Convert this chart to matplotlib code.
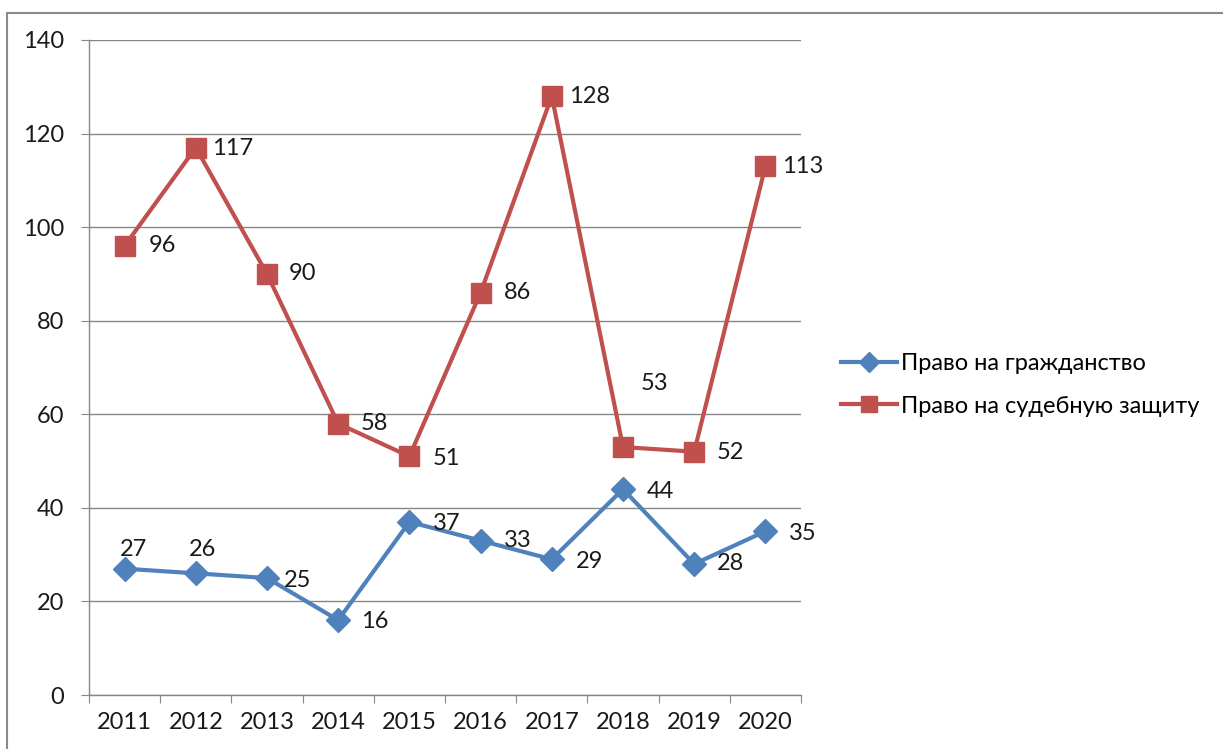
import matplotlib
matplotlib.use("Agg")
import matplotlib.pyplot as plt
from matplotlib.patches import Rectangle

years = ["2011", "2012", "2013", "2014", "2015", "2016", "2017", "2018", "2019", "2020"]
citizenship = [27, 26, 25, 16, 37, 33, 29, 44, 28, 35]
judicial = [96, 117, 90, 58, 51, 86, 128, 53, 52, 113]
series_names = ["Право на гражданство", "Право на судебную защиту"]

blue = "#4F81BD"
red = "#C0504D"
grid_c = "#868686"

plt.rcParams['font.family'] = ['Lato', 'DejaVu Sans']
FS = 17

fig = plt.figure(figsize=(12.23, 7.49), dpi=100)
fig.patches.append(Rectangle((7/1223, -0.05), 1.1, 1 - 13/749 + 0.05, transform=fig.transFigure,
                             fill=False, edgecolor="#8a8a8a", linewidth=1.5))
ax = fig.add_axes([89/1223, 1 - 695/749, (801 - 89)/1223, (695 - 40)/749])

x = list(range(len(years)))
ax.plot(x, citizenship, color=blue, lw=3, marker='D', ms=12.5, mec=blue, mfc=blue, label=series_names[0], zorder=3)
ax.plot(x, judicial, color=red, lw=3, marker='s', ms=14, mec=red, mfc=red, label=series_names[1], zorder=3)

ax.set_xlim(-0.5, len(years) - 0.5)
ax.set_ylim(0, 140)
ax.set_yticks(range(0, 141, 20))
ax.yaxis.grid(True, color=grid_c, lw=1)
ax.set_axisbelow(True)
for s in ['top', 'right']:
    ax.spines[s].set_visible(False)
for s in ['left', 'bottom']:
    ax.spines[s].set_color(grid_c)
    ax.spines[s].set_linewidth(1)

ax.set_xticks([i - 0.5 for i in range(len(years) + 1)])
ax.set_xticklabels([])
ax.set_xticks(x, minor=True)
ax.set_xticklabels(years, minor=True)
ax.tick_params(axis='x', which='major', length=6, color=grid_c, direction='out')
ax.tick_params(axis='x', which='minor', length=0, pad=12, labelsize=FS, labelcolor="#1a1a1a")
ax.tick_params(axis='y', length=6, color=grid_c, pad=12, labelsize=FS, labelcolor="#1a1a1a")

blue_off = [(9, 19), (7, 24), (31, -2), (37, -1), (37, -2), (37, 0), (38, -2), (37, -2), (36, 0), (37, -2)]
red_off = [(38, 0), (37, -1), (36, 0), (36, 0), (37, -2), (37, 0), (38, 0), (32, 64), (36, -1), (37, 0)]
for i in x:
    ax.annotate(str(citizenship[i]), (i, citizenship[i]), xytext=blue_off[i], textcoords='offset pixels',
                ha='center', va='center', fontsize=FS, color="#1a1a1a")
    ax.annotate(str(judicial[i]), (i, judicial[i]), xytext=red_off[i], textcoords='offset pixels',
                ha='center', va='center', fontsize=FS, color="#1a1a1a")

leg = fig.legend(loc='center left', bbox_to_anchor=(820/1223, 1 - 385/749), frameon=False, fontsize=FS,
                 handlelength=2.35, handletextpad=0.2, labelspacing=0.9, markerscale=0.8)

fig.savefig("out.png", dpi=100)
